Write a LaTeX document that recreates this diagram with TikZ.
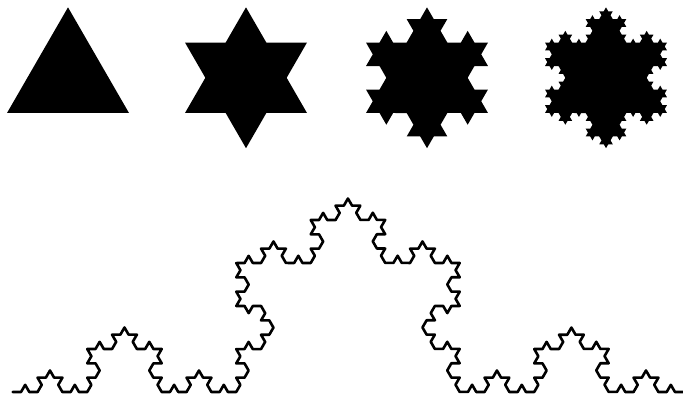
\documentclass[tikz,border=0pt]{standalone}
\usetikzlibrary{decorations.fractals}
\begin{document}
\begin{tikzpicture}[x=1pt,y=1pt,decoration=Koch snowflake,
  flake/.style={fill=black},
  curve/.style={draw=black,line width=2.6pt,line join=round,line cap=round}]
\useasboundingbox (0,0) rectangle (683,396);
\fill[white] (0,0) rectangle (683,396);
\clip (0,0) rectangle (683,396);
% level 0
\fill[flake] (68-61,283) -- (68,388.65) -- (68+61,283) -- cycle;
% level 1
\fill[flake] decorate{ (246-61,283) -- (246,388.65) -- (246+61,283) -- (246-61,283) };
% level 2
\fill[flake] decorate{ decorate{ (427-61,283) -- (427,388.65) -- (427+61,283) -- (427-61,283) }};
% level 3
\fill[flake] decorate{ decorate{ decorate{ (606-61,283) -- (606,388.65) -- (606+61,283) -- (606-61,283) }}};
% Koch curve
\draw[curve] decorate{ decorate{ decorate{ decorate{ (12.75,4) -- (683.25,4) }}}};
\end{tikzpicture}
\end{document}
